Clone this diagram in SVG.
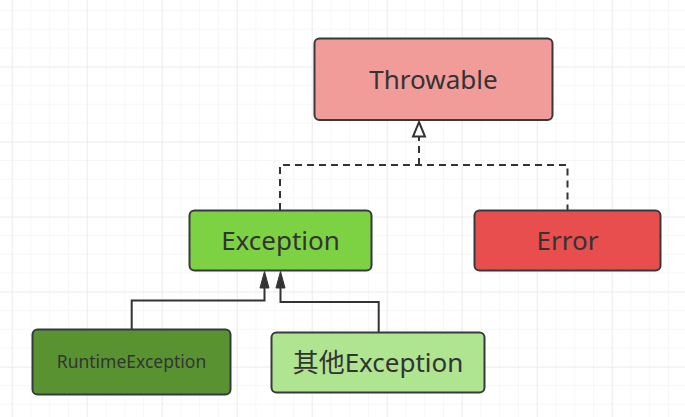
<svg xmlns="http://www.w3.org/2000/svg" width="685" height="417" viewBox="0 0 685 417">
<defs>
<pattern id="minor" x="11.7" y="10" width="18.75" height="18.75" patternUnits="userSpaceOnUse">
<path d="M0 0V18.75M0 0H18.75" fill="none" stroke="#f0f0f0" stroke-width="1"/>
</pattern>
<pattern id="major" x="11.7" y="-8.3" width="75" height="75" patternUnits="userSpaceOnUse">
<path d="M0 0V75M0 0H75" fill="none" stroke="#e3e3e3" stroke-width="1"/>
</pattern>
<style>
.box{stroke:#36393d;stroke-width:2}
.t{font-family:"Noto Sans","Noto Sans CJK SC",sans-serif;fill:#333333;text-anchor:middle}
.c{fill:none;stroke:#333333;stroke-width:2}
.d{stroke-dasharray:7 5}
</style>
</defs>
<rect width="685" height="417" fill="#ffffff"/>
<rect width="685" height="417" fill="url(#minor)"/>
<rect width="685" height="417" fill="url(#major)"/>

<g id="connectors">
<path class="c d" d="M280 210V165H567.5V210"/>
<path class="c d" d="M419 165V137"/>
<path d="M419 122L425 136.5H413Z" fill="#ffffff" stroke="#333333" stroke-width="2" stroke-linejoin="miter"/>
<path class="c" d="M131.7 329V300.5H264.5V287"/>
<path d="M264.5 271.5L269 288H260Z" fill="#333333" stroke="#333333" stroke-width="1"/>
<path class="c" d="M378.7 332V302H280.5V287"/>
<path d="M280.5 271.5L285 288H276Z" fill="#333333" stroke="#333333" stroke-width="1"/>
</g>

<g id="throwable">
<rect class="box" x="314.5" y="38.5" width="238" height="81.5" rx="5" fill="#f19c99"/>
<text class="t" x="433.5" y="89" font-size="26">Throwable</text>
</g>
<g id="exception">
<rect class="box" x="189.5" y="210.5" width="182" height="60" rx="5" fill="#7dd244"/>
<text class="t" x="280.5" y="250" font-size="26">Exception</text>
</g>
<g id="error">
<rect class="box" x="474.5" y="210.5" width="186" height="60" rx="5" fill="#e84e4e"/>
<text class="t" x="567.5" y="250" font-size="26">Error</text>
</g>
<g id="runtime">
<rect class="box" x="32.5" y="329.5" width="198" height="65" rx="5" fill="#599331"/>
<text class="t" x="131.5" y="368" font-size="17.5">RuntimeException</text>
</g>
<g id="other">
<rect class="box" x="271.5" y="332.5" width="213" height="60" rx="5" fill="#afe490"/>
<text class="t" x="378" y="371.5" font-size="26">其他Exception</text>
</g>
</svg>
